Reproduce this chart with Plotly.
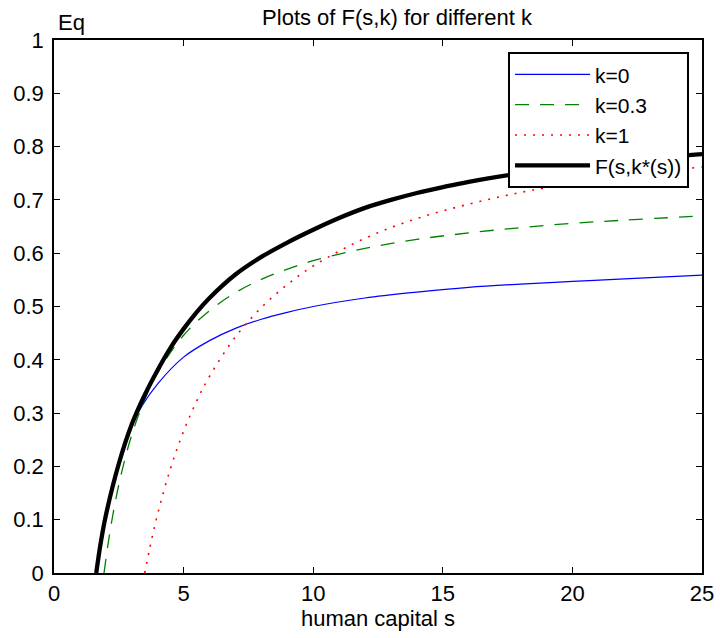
import plotly.graph_objects as go

# values
s_k0 = [1.63, 1.8, 2.0, 2.3, 2.6, 3.0, 3.4, 4.0, 5.0, 6.0, 7.0, 8.0, 9.0, 10.0, 12.0, 14.0, 16.0, 18.0, 20.0, 22.0, 25.0]
v_k0 = [0.0, 0.056, 0.11, 0.174, 0.223, 0.276, 0.314, 0.355, 0.405, 0.436, 0.459, 0.476, 0.489, 0.500, 0.516, 0.527, 0.536, 0.542, 0.547, 0.552, 0.559]

s_k03 = [1.93, 2.1, 2.3, 2.6, 3.0, 3.5, 4.0, 5.0, 6.0, 7.0, 8.0, 9.0, 10.0, 12.0, 14.0, 16.0, 18.0, 20.0, 22.0, 25.0]
v_k03 = [0.0, 0.059, 0.117, 0.187, 0.259, 0.326, 0.376, 0.446, 0.492, 0.526, 0.551, 0.570, 0.586, 0.609, 0.626, 0.638, 0.648, 0.656, 0.662, 0.670]

s_k1 = [3.5, 3.7, 4.0, 4.5, 5.0, 5.5, 6.0, 7.0, 8.0, 9.0, 10.0, 12.0, 14.0, 16.0, 18.0, 20.0, 22.0, 25.0]
v_k1 = [0.0, 0.048, 0.111, 0.197, 0.266, 0.322, 0.369, 0.443, 0.498, 0.541, 0.576, 0.628, 0.665, 0.692, 0.714, 0.731, 0.745, 0.762]

s_opt = [1.63, 1.8, 2.0, 2.5, 3.0, 3.5, 4.0, 4.5, 5.0, 5.5, 6.0, 7.0, 8.0, 9.0, 10.0, 11.0, 12.0, 13.0, 14.0, 15.0, 16.0, 18.0, 20.0, 22.0, 25.0]
v_opt = [0.0, 0.056, 0.108, 0.205, 0.279, 0.334, 0.381, 0.423, 0.458, 0.489, 0.516, 0.560, 0.593, 0.620, 0.644, 0.666, 0.685, 0.700, 0.713, 0.724, 0.734, 0.750, 0.763, 0.774, 0.786]

x_ticks = [0, 5, 10, 15, 20, 25]
y_ticks = [0, 0.1, 0.2, 0.3, 0.4, 0.5, 0.6, 0.7, 0.8, 0.9, 1]
y_tick_labels = ["0", "0.1", "0.2", "0.3", "0.4", "0.5", "0.6", "0.7", "0.8", "0.9", "1"]

FONT = "Liberation Sans, Arial, Helvetica, sans-serif"
FS = 22
W, H = 720, 638

fig = go.Figure()
fig.add_trace(go.Scatter(x=s_k0, y=v_k0, mode="lines", name="k=0",
                         line=dict(color="#0000ff", width=1.2, shape="spline")))
fig.add_trace(go.Scatter(x=s_k03, y=v_k03, mode="lines", name="k=0.3",
                         line=dict(color="#008000", width=1.3, dash="14px,11px", shape="spline")))
fig.add_trace(go.Scatter(x=s_k1, y=v_k1, mode="lines", name="k=1",
                         line=dict(color="#ff0000", width=1.6, dash="2px,7px", shape="spline")))
fig.add_trace(go.Scatter(x=s_opt, y=v_opt, mode="lines", name="F(s,k*(s))",
                         line=dict(color="#000000", width=4.3, shape="spline")))

axis_common = dict(showgrid=False, zeroline=False, showline=True, linecolor="black",
                   linewidth=1.5, mirror="ticks", ticks="inside", ticklen=6,
                   tickcolor="black", tickwidth=1, automargin=False,
                   tickfont=dict(family=FONT, size=FS, color="black"))

fig.update_xaxes(range=[0, 25], tickvals=x_ticks, **axis_common,
                 title=dict(text="human capital s", font=dict(family=FONT, size=FS, color="black"),
                            standoff=4))
fig.update_yaxes(range=[0, 1], tickvals=y_ticks, ticktext=y_tick_labels, **axis_common,
                 ticklabelstandoff=4)

fig.update_layout(
    width=W, height=H,
    margin=dict(l=54, r=18, t=40, b=65),
    paper_bgcolor="white", plot_bgcolor="white",
    font=dict(family=FONT, size=FS, color="black"),
    title=dict(text="Plots of F(s,k) for different k", x=397 / W, xanchor="center",
               y=1 - 25 / H, yanchor="bottom", font=dict(family=FONT, size=FS, color="black")),
    showlegend=True,
    legend=dict(x=0.98, xanchor="right", y=0.977, yanchor="top",
                bgcolor="white", bordercolor="black", borderwidth=2,
                font=dict(family=FONT, size=21, color="black"),
                itemwidth=75, tracegroupgap=0),
    annotations=[dict(text="Eq", x=0.0, xref="paper", xanchor="left", xshift=2,
                      y=1.0, yref="paper", yanchor="bottom", yshift=3,
                      showarrow=False, font=dict(family=FONT, size=FS, color="black"))],
)

fig.write_html("out.html", config={"displayModeBar": False},
               post_script="document.body.style.margin='0px';document.body.style.padding='0px';")
